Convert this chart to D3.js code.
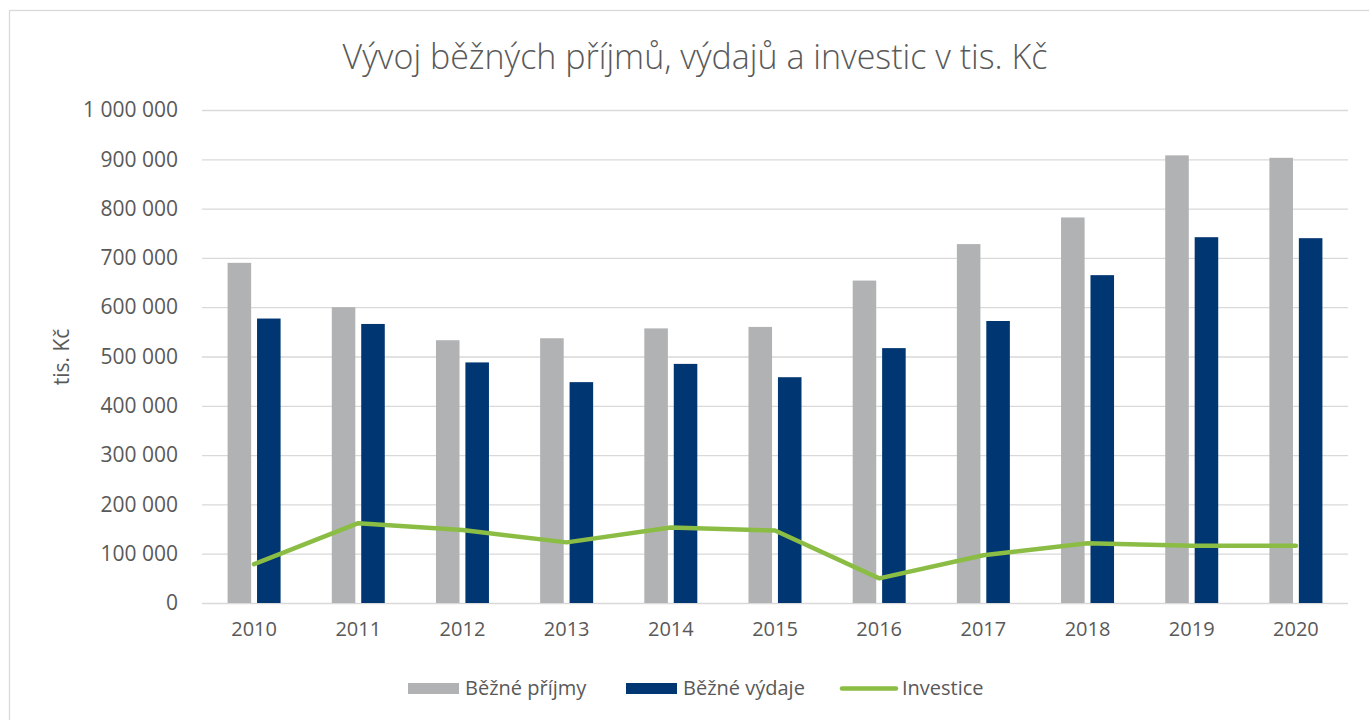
<!DOCTYPE html>
<html>
<head>
<meta charset="utf-8">
<script src="https://cdn.jsdelivr.net/npm/d3@7"></script>
<style>
  html, body { margin: 0; padding: 0; background: #fff; }
  svg { display: block; font-family: "Open Sans", sans-serif; }
</style>
</head>
<body>
<svg id="chart" width="1369" height="720"></svg>
<script>
// Data (tis. Kč)
const years = ["2010", "2011", "2012", "2013", "2014", "2015", "2016", "2017", "2018", "2019", "2020"];
const prijmy   = [690000, 600000, 533000, 537000, 557000, 560000, 654000, 728000, 782000, 908000, 903000];
const vydaje   = [577000, 566000, 488000, 448000, 485000, 458000, 517000, 572000, 665000, 742000, 740000];
const investice = [79000, 162000, 148000, 123000, 153000, 147000, 50000, 97000, 121000, 116000, 116000];
const yTicks = [0, 100000, 200000, 300000, 400000, 500000, 600000, 700000, 800000, 900000, 1000000];
const seriesNames = ["Běžné příjmy", "Běžné výdaje", "Investice"];

const colors = { prijmy: "#b1b2b4", vydaje: "#003671", investice: "#8bbd45" };
const textColor = "#595959";
const gridColor = "#d9d9d9";

const plot = { left: 202, right: 1348, top: 110, bottom: 603 };

const svg = d3.select("#chart");

// outer chart border
svg.append("rect")
  .attr("x", 9.5).attr("y", 10.5)
  .attr("width", 1400).attr("height", 760)
  .attr("fill", "none")
  .attr("stroke", gridColor)
  .attr("stroke-width", 1.3);

svg.append("text")
  .attr("x", 695).attr("y", 69)
  .attr("text-anchor", "middle")
  .attr("font-size", 34)
  .attr("font-weight", 300)
  .attr("fill", textColor)
  .text("Vývoj běžných příjmů, výdajů a investic v tis. Kč");

const x = d3.scaleBand()
  .domain(years)
  .range([plot.left, plot.right]);

const bw = x.bandwidth();
const x1 = d3.scaleBand()
  .domain(["prijmy", "vydaje"])
  .range([bw / 2 - 26.5, bw / 2 + 26.5])
  .paddingInner(0.2);

const y = d3.scaleLinear()
  .domain([0, 1000000])
  .range([plot.bottom, plot.top]);

const fmt = v => d3.format(",")(v).replace(/,/g, " ");

// gridlines + y labels
const yAxis = svg.append("g")
  .attr("transform", `translate(${plot.left},0)`)
  .call(d3.axisLeft(y).tickValues(yTicks).tickSize(-(plot.right - plot.left)).tickPadding(24).tickFormat(fmt));
yAxis.select(".domain").remove();
yAxis.selectAll(".tick line").attr("stroke", gridColor).attr("stroke-width", 1.3);
yAxis.selectAll(".tick text")
  .attr("fill", textColor)
  .attr("font-size", 21)
  .attr("font-family", "Open Sans, sans-serif");

// x labels
const xAxis = svg.append("g")
  .attr("transform", `translate(0,${plot.bottom})`)
  .call(d3.axisBottom(x).tickSize(0).tickPadding(19));
xAxis.select(".domain").remove();
xAxis.selectAll(".tick text")
  .attr("fill", textColor)
  .attr("font-size", 20)
  .attr("font-family", "Open Sans, sans-serif");

// axis title
svg.append("text")
  .attr("transform", "translate(69,357) rotate(-90)")
  .attr("text-anchor", "middle")
  .attr("font-size", 21)
  .attr("fill", textColor)
  .text("tis. Kč");

// bars
const rows = years.map((yr, i) => ({ year: yr, prijmy: prijmy[i], vydaje: vydaje[i] }));
const groups = svg.append("g").selectAll("g")
  .data(rows)
  .join("g")
  .attr("transform", d => `translate(${x(d.year)},0)`);

groups.selectAll("rect")
  .data(d => ["prijmy", "vydaje"].map(k => ({ key: k, value: d[k] })))
  .join("rect")
  .attr("x", d => x1(d.key))
  .attr("y", d => y(d.value))
  .attr("width", x1.bandwidth())
  .attr("height", d => y(0) - y(d.value))
  .attr("fill", d => colors[d.key]);

// line
const line = d3.line()
  .x((d, i) => x(years[i]) + bw / 2)
  .y(d => y(d));

svg.append("path")
  .datum(investice)
  .attr("d", line)
  .attr("fill", "none")
  .attr("stroke", colors.investice)
  .attr("stroke-width", 4.5)
  .attr("stroke-linejoin", "round")
  .attr("stroke-linecap", "round");

// legend
const legend = svg.append("g").attr("font-size", 20).attr("fill", textColor);
const legendItems = [
  { name: seriesNames[0], color: colors.prijmy, type: "rect", x: 408, tx: 465 },
  { name: seriesNames[1], color: colors.vydaje, type: "rect", x: 626, tx: 683 },
  { name: seriesNames[2], color: colors.investice, type: "line", x: 842, tx: 902 }
];
legendItems.forEach(it => {
  if (it.type === "rect") {
    legend.append("rect")
      .attr("x", it.x).attr("y", 683)
      .attr("width", 51).attr("height", 11)
      .attr("fill", it.color);
  } else {
    legend.append("line")
      .attr("x1", it.x).attr("x2", it.x + 54)
      .attr("y1", 688.5).attr("y2", 688.5)
      .attr("stroke", it.color)
      .attr("stroke-width", 4.5)
      .attr("stroke-linecap", "round");
  }
  legend.append("text")
    .attr("x", it.tx).attr("y", 695)
    .text(it.name);
});
</script>
</body>
</html>
